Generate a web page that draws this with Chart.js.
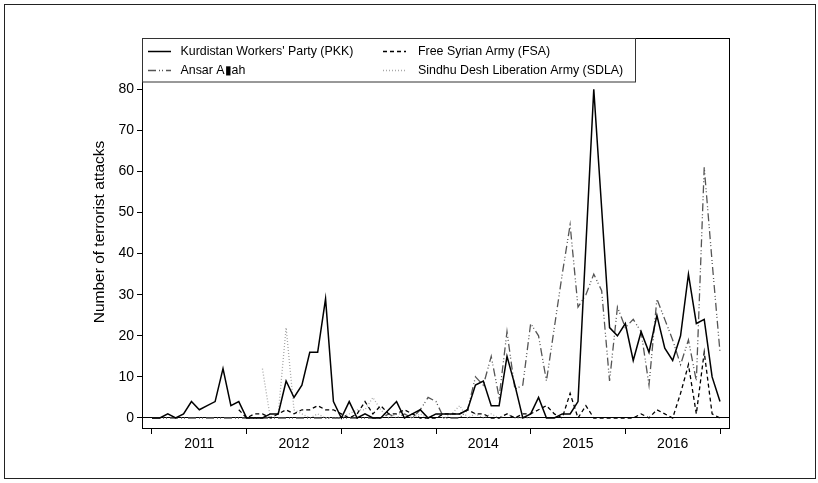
<!DOCTYPE html>
<html><head><meta charset="utf-8">
<script src="https://cdn.jsdelivr.net/npm/chart.js@4/dist/chart.umd.min.js"></script>
<style>html,body{margin:0;padding:0;background:#fff}#wrap{width:818px;height:483px;position:relative}</style>
</head><body><div id="wrap"><canvas id="c" width="818" height="483"></canvas></div>
<script>
// x = month index from Jan 2011 (0) to Jan 2017 (72)
const years = ['2011', '2012', '2013', '2014', '2015', '2016'];
const monthIndex = Array.from({length: 73}, (_, i) => i);
const yTicks = [0, 10, 20, 30, 40, 50, 60, 70, 80];

const pkk = [0,0,1,0,1,4,2,3,4,12,3,4,
  0,0,0,1,1,9,5,8,16,16,29,4,
  0,4,0,1,0,0,2,4,0,1,2,0,
  1,1,1,1,2,8,9,3,3,15,8,0,
  1,5,0,0,1,1,4,42,80,51,22,20,
  23,14,21,16,25,17,14,20,35,23,24,10,
  4];
const fsa = [null,null,null,null,null,null,null,null,null,null,null,2,
  0,1,1,0,1,2,1,2,2,3,2,2,
  1,0,1,4,1,3,1,1,2,1,0,0,
  0,1,1,1,2,1,1,0,0,1,0,1,
  1,2,3,1,0,6,0,3,0,0,0,0,
  0,0,1,0,2,1,0,6,13,1,16,1,
  0];
const ansar = [0,0,0,0,0,0,0,0,0,0,0,0,
  0,0,0,0,0,0,0,0,0,0,0,0,
  0,0,0,0,0,0,1,0,1,0,2,5,
  4,0,0,0,2,10,8,15,5,21,7,8,
  23,20,9,22,35,47,27,30,35,31,9,27,
  22,24,21,8,29,24,19,13,19,9,61,38,
  16];
const sdla = [null,null,null,null,null,null,null,null,null,null,null,null,
  null,null,12,0,1,22,2,1,0,1,0,0,
  0,1,2,2,5,2,0,1,1,0,1,0,
  1,0,1,3,0,1,0,1,0,1,0,0,
  0,null,null,null,null,null,null,null,null,null,null,null,
  null,null,null,null,null,null,null,null,null,null,null,null,
  null];

const seriesNames = ["Kurdistan Workers' Party (PKK)", "Free Syrian Army (FSA)", "Ansar A\u25AEah", "Sindhu Desh Liberation Army (SDLA)"];

const FONT = '"Liberation Sans", Arial, sans-serif';
Chart.defaults.font.family = FONT;
Chart.defaults.color = '#000';

const pts = arr => monthIndex.map((m, i) => ({x: m, y: arr[i]}));

const styles = [
  {color: '#000', width: 1.5, dash: []},
  {color: '#000', width: 1.3, dash: [4, 3]},
  {color: '#555', width: 1.3, dash: [8, 3, 1, 2, 1, 3]},
  {color: '#a8a8a8', width: 1.3, dash: [1, 2]}
];
const seriesData = [pkk, fsa, ansar, sdla];

const framePlugin = {
  id: 'frame',
  afterDraw(chart) {
    const ctx = chart.ctx, ca = chart.chartArea;
    ctx.save();
    // outer border
    ctx.strokeStyle = '#222'; ctx.lineWidth = 1;
    ctx.strokeRect(4.5, 4.5, 811, 474);
    // plot frame
    ctx.strokeStyle = '#000';
    ctx.strokeRect(ca.left + 0.5, ca.top + 0.5, ca.right - ca.left - 1, ca.bottom - ca.top);
    // legend box
    ctx.fillStyle = '#fff';
    ctx.fillRect(ca.left + 0.5, ca.top + 0.5, 493, 43.5);
    ctx.strokeStyle = '#333';
    ctx.strokeRect(ca.left + 0.5, ca.top + 0.5, 493, 43.5);
    const items = [
      {s: 0, lx: 148, tx: 180.5, y: 51.5},
      {s: 2, lx: 148, tx: 180.5, y: 70.5},
      {s: 1, lx: 383, tx: 418, y: 51.5},
      {s: 3, lx: 383, tx: 418, y: 70.5}
    ];
    ctx.font = '12.4px ' + FONT;
    ctx.textBaseline = 'middle';
    ctx.textAlign = 'left';
    items.forEach(it => {
      const st = styles[it.s];
      ctx.strokeStyle = st.color; ctx.lineWidth = st.width;
      ctx.setLineDash(st.dash);
      ctx.beginPath(); ctx.moveTo(it.lx, it.y); ctx.lineTo(it.lx + 23, it.y); ctx.stroke();
      ctx.setLineDash([]);
      ctx.fillStyle = '#000';
      ctx.fillText(seriesNames[it.s], it.tx, it.y);
    });
    // y title
    ctx.save();
    ctx.translate(100, 232);
    ctx.rotate(-Math.PI / 2);
    ctx.font = '15.5px ' + FONT;
    ctx.textAlign = 'center';
    ctx.textBaseline = 'middle';
    ctx.fillStyle = '#000';
    ctx.fillText('Number of terrorist attacks', 0, 0);
    ctx.restore();
    ctx.restore();
  }
};

new Chart(document.getElementById('c'), {
  type: 'line',
  data: {
    datasets: seriesData.map((arr, k) => ({
      label: seriesNames[k],
      data: pts(arr),
      borderColor: styles[k].color,
      borderWidth: styles[k].width,
      borderDash: styles[k].dash,
      pointRadius: 0,
      tension: 0,
      fill: false,
      spanGaps: false
    }))
  },
  options: {
    responsive: false,
    devicePixelRatio: 1,
    animation: false,
    layout: {padding: {left: 0, right: 88, top: 38, bottom: 0}},
    plugins: {legend: {display: false}, tooltip: {enabled: false}},
    scales: {
      x: {
        type: 'linear',
        min: -1.2676, max: 73.2676,
        afterBuildTicks: s => { s.ticks = Array.from({length: 13}, (_, k) => ({value: k * 6})); },
        afterFit: s => { s.height = 55; },
        ticks: {
          autoSkip: false, maxRotation: 0, minRotation: 0, padding: 2,
          font: {size: 14},
          callback: v => (v % 12 === 6 ? years[(v - 6) / 12] : '')
        },
        grid: {
          drawOnChartArea: false, tickLength: 6, lineWidth: 1,
          tickColor: c => (c.tick && c.tick.value % 12 === 0 ? '#000' : 'rgba(0,0,0,0)')
        },
        border: {display: false}
      },
      y: {
        type: 'linear',
        min: -2.434, max: 92.48,
        afterBuildTicks: s => { s.ticks = yTicks.map(v => ({value: v})); },
        afterFit: s => { s.width = 142; },
        ticks: {padding: 3, font: {size: 14}},
        grid: {
          drawOnChartArea: true, tickLength: 5, lineWidth: 1,
          color: c => (c.tick && c.tick.value === 0 ? '#000' : 'rgba(0,0,0,0)'),
          tickColor: '#000'
        },
        border: {display: false}
      }
    }
  },
  plugins: [framePlugin]
});
</script></body></html>
